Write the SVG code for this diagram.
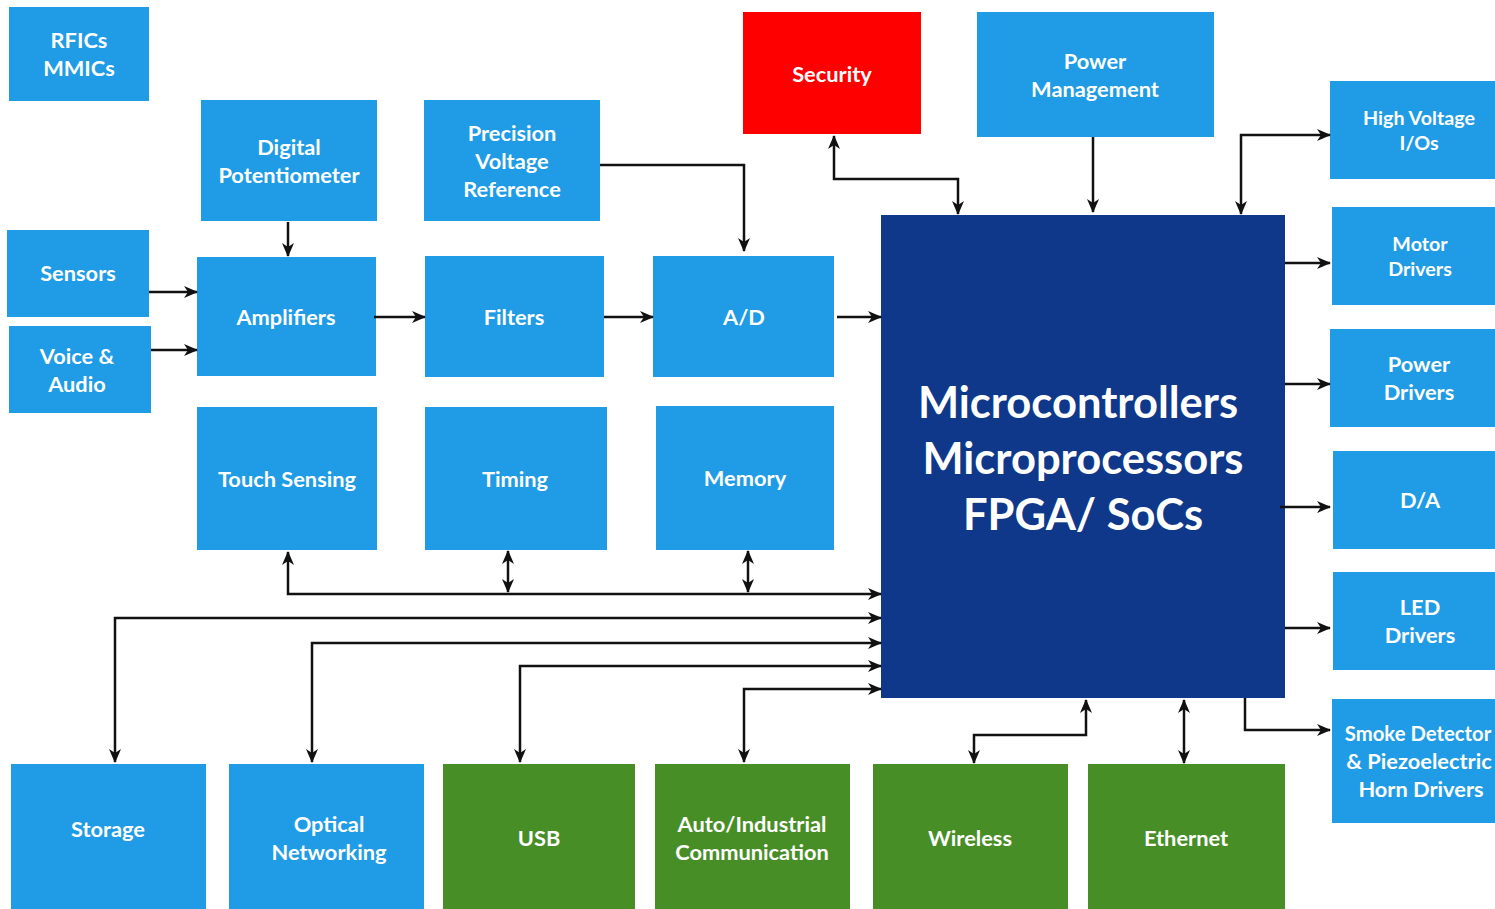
<svg xmlns="http://www.w3.org/2000/svg" width="1495" height="909" viewBox="0 0 1495 909">
<style>
.b{fill:#1F9CE5}
.g{fill:#488E27}
.r{fill:#FF0000}
.d{fill:#0F388A}
text{font-family:Lato,"Open Sans","Liberation Sans",sans-serif;font-weight:bold;fill:#fff;text-anchor:middle;font-size:21.8px}
.s{font-size:19.7px}
.big{font-size:43.5px}
#connectors path{fill:none;stroke:#111;stroke-width:2.5}
.a2{marker-start:url(#ah);marker-end:url(#ah)}
.a1{marker-end:url(#ah)}
</style>
<defs>
<marker id="ah" markerUnits="userSpaceOnUse" viewBox="0 0 14 12" refX="13" refY="6" markerWidth="14" markerHeight="12" orient="auto-start-reverse">
<path d="M0,0 L14,6 L0,12 L4,6 z" fill="#111"/>
</marker>
</defs>
<rect width="1495" height="909" fill="#fff"/>
<g id="rfics"><rect class="b" x="9" y="7" width="140" height="94"/><text x="79" y="48">RFICs</text><text x="79" y="76">MMICs</text></g>
<g id="digipot"><rect class="b" x="201" y="100" width="176" height="121"/><text x="289" y="155">Digital</text><text x="289" y="183">Potentiometer</text></g>
<g id="pvr"><rect class="b" x="424" y="100" width="176" height="121"/><text x="512" y="141">Precision</text><text x="512" y="169">Voltage</text><text x="512" y="197">Reference</text></g>
<g id="security"><rect class="r" x="743" y="12" width="178" height="122"/><text x="832" y="82">Security</text></g>
<g id="powermgmt"><rect class="b" x="977" y="12" width="237" height="125"/><text x="1095" y="69">Power</text><text x="1095" y="97">Management</text></g>
<g id="hvio"><rect class="b" x="1330" y="81" width="165" height="98"/><text class="s" x="1419" y="125">High Voltage</text><text class="s" x="1419" y="150">I/Os</text></g>
<g id="sensors"><rect class="b" x="7" y="230" width="142" height="87"/><text x="78" y="281">Sensors</text></g>
<g id="voice"><rect class="b" x="9" y="326" width="142" height="87"/><text x="77" y="364">Voice &amp;</text><text x="77" y="392">Audio</text></g>
<g id="amplifiers"><rect class="b" x="197" y="257" width="179" height="119"/><text x="286" y="325">Amplifiers</text></g>
<g id="filters"><rect class="b" x="425" y="256" width="179" height="121"/><text x="514" y="325">Filters</text></g>
<g id="ad"><rect class="b" x="653" y="256" width="181" height="121"/><text x="744" y="325">A/D</text></g>
<g id="mcu"><rect class="d" x="881" y="215" width="404" height="483"/><text class="big" x="1078" y="418">Microcontrollers</text><text class="big" x="1083" y="474">Microprocessors</text><text class="big" x="1083" y="530">FPGA/ SoCs</text></g>
<g id="motor"><rect class="b" x="1332" y="207" width="163" height="98"/><text class="s" x="1420" y="251">Motor</text><text class="s" x="1420" y="276">Drivers</text></g>
<g id="powerdrv"><rect class="b" x="1330" y="329" width="165" height="98"/><text x="1419" y="372">Power</text><text x="1419" y="400">Drivers</text></g>
<g id="da"><rect class="b" x="1333" y="451" width="162" height="98"/><text x="1420" y="508">D/A</text></g>
<g id="led"><rect class="b" x="1333" y="572" width="162" height="98"/><text x="1420" y="615">LED</text><text x="1420" y="643">Drivers</text></g>
<g id="smoke"><rect class="b" x="1332" y="699" width="163" height="124"/><text x="1418" y="741" style="font-size:20.3px">Smoke Detector</text><text x="1419" y="769">&amp; Piezoelectric</text><text x="1421" y="797">Horn Drivers</text></g>
<g id="touch"><rect class="b" x="197" y="407" width="180" height="143"/><text x="287" y="487">Touch Sensing</text></g>
<g id="timing"><rect class="b" x="425" y="407" width="182" height="143"/><text x="515" y="487">Timing</text></g>
<g id="memory"><rect class="b" x="656" y="406" width="178" height="144"/><text x="745" y="486">Memory</text></g>
<g id="storage"><rect class="b" x="11" y="764" width="195" height="145"/><text x="108" y="837">Storage</text></g>
<g id="optical"><rect class="b" x="229" y="764" width="195" height="145"/><text x="329" y="832">Optical</text><text x="329" y="860">Networking</text></g>
<g id="usb"><rect class="g" x="443" y="764" width="192" height="145"/><text x="539" y="846">USB</text></g>
<g id="auto"><rect class="g" x="655" y="764" width="195" height="145"/><text x="752" y="832">Auto/Industrial</text><text x="752" y="860">Communication</text></g>
<g id="wireless"><rect class="g" x="873" y="764" width="195" height="145"/><text x="970" y="846">Wireless</text></g>
<g id="ethernet"><rect class="g" x="1088" y="764" width="197" height="145"/><text x="1186" y="846">Ethernet</text></g>
<g id="connectors">
<path class="a1" d="M288,222 V256"/>
<path class="a1" d="M149,292 H197"/>
<path class="a1" d="M151,350 H197"/>
<path class="a1" d="M374,317 H425"/>
<path class="a1" d="M604,317 H653"/>
<path class="a1" d="M837,317 H881"/>
<path class="a1" d="M600,165 H744 V251"/>
<path class="a2" d="M834,136 V179 H958 V214"/>
<path class="a1" d="M1093,137 V212"/>
<path class="a2" d="M1241,214 V135 H1330"/>
<path class="a1" d="M1285,263 H1330"/>
<path class="a1" d="M1285,384 H1330"/>
<path class="a1" d="M1280,507 H1330"/>
<path class="a1" d="M1285,628 H1330"/>
<path class="a1" d="M1245,698 V730 H1330"/>
<path class="a2" d="M288,552 V594 H881"/>
<path class="a2" d="M508,551 V592"/>
<path class="a2" d="M748,551 V592"/>
<path class="a2" d="M115,762 V618 H881"/>
<path class="a2" d="M312,762 V643 H881"/>
<path class="a2" d="M520,762 V666 H881"/>
<path class="a2" d="M744,762 V689 H881"/>
<path class="a2" d="M1086,700 V735 H974 V763"/>
<path class="a2" d="M1184,700 V763"/>
</g>
</svg>
